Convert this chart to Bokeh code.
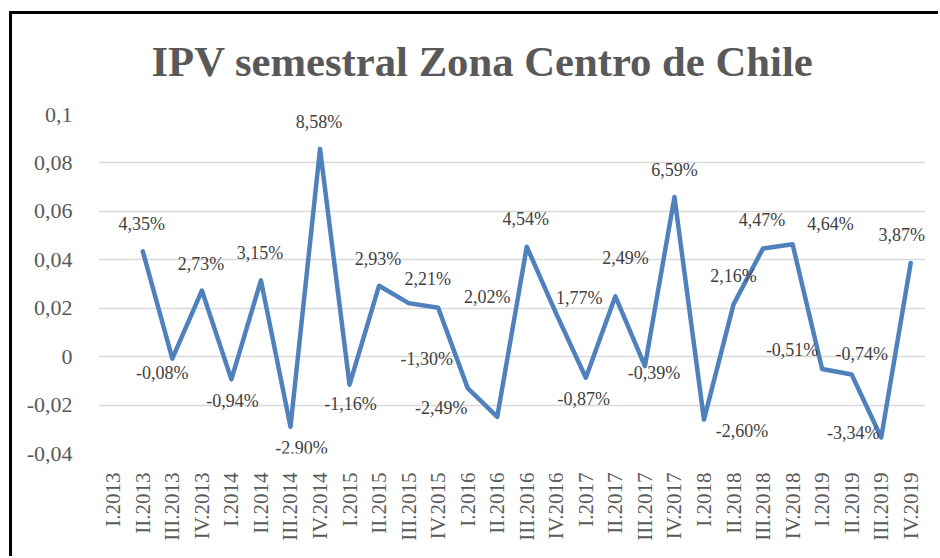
import math
from bokeh.plotting import figure
from bokeh.models import ColumnDataSource, FactorRange, FixedTicker, LabelSet, InlineStyleSheet
from bokeh.embed import file_html
from bokeh.resources import INLINE

categories = [
    "I.2013", "II.2013", "III.2013", "IV.2013",
    "I.2014", "II.2014", "III.2014", "IV.2014",
    "I.2015", "II.2015", "III.2015", "IV.2015",
    "I.2016", "II.2016", "III.2016", "IV.2016",
    "I.2017", "II.2017", "III.2017", "IV.2017",
    "I.2018", "II.2018", "III.2018", "IV.2018",
    "I.2019", "II.2019", "III.2019", "IV.2019",
]
# series starts at II.2013
series_categories = categories[1:]
ipv = [
    0.0435, -0.0008, 0.0273, -0.0094, 0.0315, -0.0290, 0.0858,
    -0.0116, 0.0293, 0.0221, 0.0202, -0.0130, -0.0249, 0.0454,
    0.0177, -0.0087, 0.0249, -0.0039, 0.0659, -0.0260, 0.0216,
    0.0447, 0.0464, -0.0051, -0.0074, -0.0334, 0.0387,
]
y_ticks = [-0.04, -0.02, 0.0, 0.02, 0.04, 0.06, 0.08, 0.1]
y_tick_labels = ["-0,04", "-0,02", "0", "0,02", "0,04", "0,06", "0,08", "0,1"]

# label placement (pixel offsets from each point, as placed in the original)
label_dx = [-1, -10, -1, 1, -1, 11, -1, 1, -1, 19, 49, -41, -56, -1,
            23, -2, 10, 9, 0, 38, 0, -1, 38, -30, 10, -28, -9]
label_dy = [27, -14, 27, -22, 27, -21, 27, -19, 27, 24, 11, 29, 9, 28,
            16, -21, 38, -7, 27, -11, 28, 28, 20, 19, 21, 5, 28]

labels = [("%.2f%%" % (v * 100)).replace(".", ",") for v in ipv]

src = ColumnDataSource(dict(x=series_categories, y=ipv, lab=labels,
                            dx=label_dx, dy=label_dy))

SERIF = "Liberation Serif"

p = figure(
    width=938, height=556,
    x_range=FactorRange(*categories, range_padding=0),
    y_range=(-0.04, 0.1),
    output_backend="svg", toolbar_location=None,
    min_border_left=98, min_border_right=13,
    min_border_top=114, min_border_bottom=103,
)
p.outline_line_color = None
p.background_fill_color = "white"
p.border_fill_color = None
# chart box edges (left and top) drawn behind the transparent canvas border
p.stylesheets = [InlineStyleSheet(css=(
    ":host { background: "
    "linear-gradient(#000, #000) 9px 11px / 3px 545px no-repeat, "
    "linear-gradient(#000, #000) 9px 11px / 929px 3px no-repeat, #fff; }"
))]

p.title.text = "IPV semestral Zona Centro de Chile"
p.title.text_font = SERIF
p.title.text_font_size = "42.7px"
p.title.text_font_style = "bold"
p.title.text_color = "#595959"
p.title.align = "left"
p.title.offset = 53
p.title.standoff = 60

p.line(x="x", y="y", source=src, line_color="#4f81bd", line_width=4.5,
       line_join="round", line_cap="round")

ls = LabelSet(x="x", y="y", text="lab", x_offset="dx", y_offset="dy", source=src,
              text_font=SERIF, text_font_size="18px", text_color="#404040",
              text_align="center", text_baseline="middle")
p.add_layout(ls)

p.yaxis.ticker = FixedTicker(ticks=y_ticks)
p.yaxis.major_label_overrides = {t: l for t, l in zip(y_ticks, y_tick_labels)}
p.yaxis.axis_line_color = None
p.yaxis.major_tick_line_color = None
p.yaxis.minor_tick_line_color = None
p.yaxis.major_label_text_font = SERIF
p.yaxis.major_label_text_font_size = "22px"
p.yaxis.major_label_text_color = "#595959"
p.yaxis.major_label_standoff = 20

p.xaxis.axis_line_color = None
p.xaxis.major_tick_line_color = None
p.xaxis.minor_tick_line_color = None
p.xaxis.major_label_orientation = math.pi / 2
p.xaxis.major_label_text_font = SERIF
p.xaxis.major_label_text_font_size = "21px"
p.xaxis.major_label_text_color = "#595959"
p.xaxis.major_label_standoff = 13

p.xgrid.grid_line_color = None
p.ygrid.grid_line_color = "#d9d9d9"
p.ygrid.grid_line_width = 1.5

open("out.html", "w").write(file_html(p, INLINE))
